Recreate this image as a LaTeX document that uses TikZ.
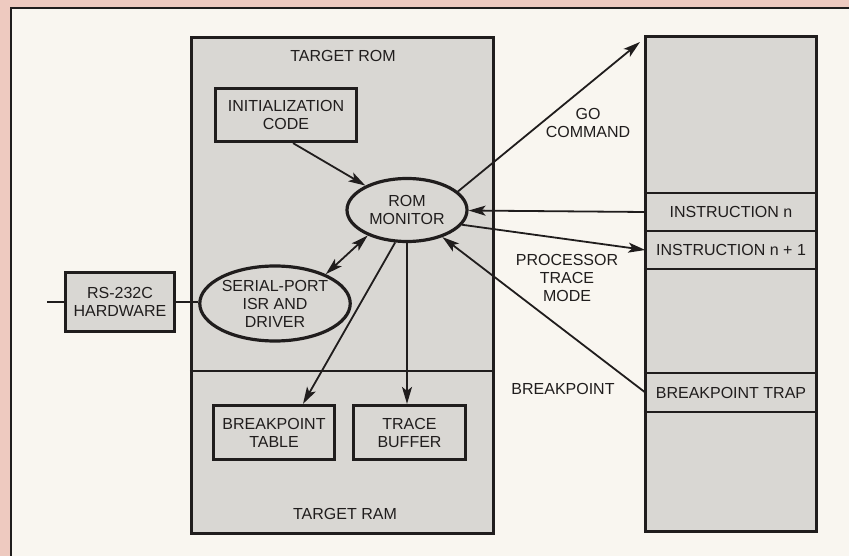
\documentclass[tikz,border=0pt]{standalone}
\usepackage{fontspec}
\setmainfont{Liberation Sans}
\usetikzlibrary{arrows.meta,shapes.geometric}

\definecolor{pagepink}{RGB}{238,202,192}
\definecolor{paper}{RGB}{249,246,240}
\definecolor{panelgray}{RGB}{217,215,211}
\definecolor{ink}{RGB}{32,29,29}

\begin{document}
\begin{tikzpicture}[x=1pt,y=-1pt,
  font=\fontsize{16}{18}\selectfont,
  every node/.style={text=ink},
  memblock/.style={draw=ink, line width=3.2pt, fill=panelgray, inner sep=0pt},
  block/.style={draw=ink, line width=3.2pt, fill=panelgray, align=center, inner sep=0pt},
  oval/.style={ellipse, draw=ink, line width=3.2pt, fill=panelgray, align=center, inner sep=0pt},
  row/.style={rectangle, inner sep=0pt, minimum width=171pt, minimum height=38pt},
  divider/.style={draw=ink, line width=2pt},
  flow/.style={draw=ink, line width=1.8pt, -{Stealth[length=17pt,width=10pt,inset=4pt]}},
  twoway/.style={draw=ink, line width=1.8pt, {Stealth[length=17pt,width=10pt,inset=4pt]}-{Stealth[length=17pt,width=10pt,inset=4pt]}},
  wire/.style={draw=ink, line width=1.8pt},
  caption/.style={align=center, inner sep=0pt}]

% page and panel
\useasboundingbox (0,0) rectangle (849,556);
\fill[pagepink] (0,0) rectangle (849,556);
\fill[paper] (11,8) rectangle (849,556);
\draw[ink, line width=1.2pt] (11,556) -- (11,8) -- (849,8);

% target memory (ROM above, RAM below)
\node[memblock, minimum width=302pt, minimum height=496pt] (target) at (342.5,285.5) {};
\draw[divider] (target.west |- 0,371) -- (target.east |- 0,371);
\node[caption] (romlabel) at (343,56) {TARGET ROM};
\node[caption] (ramlabel) at (345,514) {TARGET RAM};

% program memory column
\node[memblock, minimum width=171pt, minimum height=495pt] (prog) at (731,284) {};
\foreach \yy in {193,231,269,373,412}
  \draw[divider] (prog.west |- 0,\yy) -- (prog.east |- 0,\yy);
\node[row] (instn) at (731,212) {INSTRUCTION n};
\node[row] (instn1) at (731,250) {INSTRUCTION n + 1};
\node[row] (bptrap) at (731,392.5) {BREAKPOINT TRAP};

% blocks inside the target
\node[block, minimum width=141pt, minimum height=53pt] (init) at (286,115) {INITIALIZATION\\CODE};
\node[oval, minimum width=120pt, minimum height=63pt] (rom) at (407,210) {ROM\\MONITOR};
\node[oval, minimum width=147pt, minimum height=75pt] (serial) at (275,303.5) {SERIAL-PORT\\ISR AND\\DRIVER};
\node[block, minimum width=121pt, minimum height=54pt] (bptable) at (274,432.5) {BREAKPOINT\\TABLE};
\node[block, minimum width=112pt, minimum height=54pt] (tbuf) at (409.5,432.5) {TRACE\\BUFFER};

% serial hardware
\node[block, minimum width=109pt, minimum height=59pt] (rs) at (120,302) {RS-232C\\HARDWARE};
\coordinate (line) at (47,302);
\coordinate (gotip) at (640,42);

% connectors
\draw[wire] (line) -- (rs.west);
\draw[wire] (rs.east) -- (serial.west |- rs.east);
\draw[flow] ([xshift=7pt]init.south) -- (rom);
\draw[twoway] (serial.30) -- (rom.213);
\draw[flow] (rom.250) -- ([xshift=29pt]bptable.north);
\draw[flow] (rom.south) -- (rom.south |- tbuf.north);
\draw[flow] (rom.20) -- (gotip);
\draw[flow] (instn.west) -- (rom);
\draw[flow] (rom.-15) -- (instn1.west);
\draw[flow] (bptrap.west) -- (rom);

% connector captions
\node[caption] (golabel) at (588,123) {GO\\COMMAND};
\node[caption] (tracelabel) at (567,278) {PROCESSOR\\TRACE\\MODE};
\node[caption] (bplabel) at (563,389) {BREAKPOINT};
\end{tikzpicture}
\end{document}
